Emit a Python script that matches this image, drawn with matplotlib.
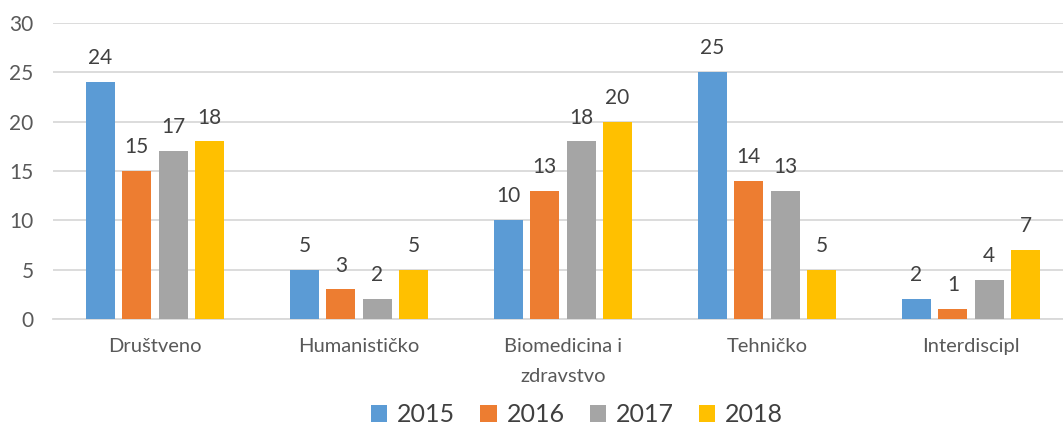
import matplotlib
matplotlib.use('Agg')
import matplotlib.pyplot as plt
import numpy as np

categories = ['Društveno', 'Humanističko', 'Biomedicina i\nzdravstvo', 'Tehničko', 'Interdiscipl']
years = ['2015', '2016', '2017', '2018']
v2015 = [24, 5, 10, 25, 2]
v2016 = [15, 3, 13, 14, 1]
v2017 = [17, 2, 18, 13, 4]
v2018 = [18, 5, 20, 5, 7]
colors = ['#5B9BD5', '#ED7D31', '#A5A5A5', '#FFC000']

plt.rcParams['font.family'] = ['Lato', 'DejaVu Sans']

fig = plt.figure(figsize=(10.63, 4.26), dpi=100)
# plot area runs past the right edge, like the cropped original
ax = fig.add_axes([53 / 1063, 107 / 426, 1020 / 1063, 296 / 426])

x = np.arange(len(categories))
slot = 0.178
bw = 0.143
series = [v2015, v2016, v2017, v2018]
for i, vals in enumerate(series):
    pos = x + (i - 1.5) * slot
    bars = ax.bar(pos, vals, width=bw, color=colors[i], label=years[i], zorder=3)
    for b, v in zip(bars, vals):
        ax.annotate(str(v), (b.get_x() + b.get_width() / 2, v),
                    xytext=(0, 10), textcoords='offset points',
                    ha='center', va='bottom', fontsize=15, color='#404040')

ax.set_xlim(-0.5, len(categories) - 0.5)
ax.set_ylim(0, 30)
ax.set_yticks(range(0, 31, 5))
ax.yaxis.grid(True, color='#D9D9D9', linewidth=1.3, zorder=0)
ax.set_axisbelow(True)
for s in ['top', 'right', 'left']:
    ax.spines[s].set_visible(False)
ax.spines['bottom'].set_color('#D9D9D9')
ax.spines['bottom'].set_linewidth(1.3)
ax.tick_params(axis='both', length=0, colors='#595959')
ax.tick_params(axis='y', labelsize=15, pad=14)
ax.tick_params(axis='x', labelsize=14.5, pad=14)
ax.set_xticks(x)
ax.set_xticklabels(categories, linespacing=1.9)

fig.legend(loc='center', bbox_to_anchor=(577 / 1063, 11 / 426), ncol=4,
           frameon=False, fontsize=18, handlelength=0.65, handleheight=0.65,
           handletextpad=0.4, columnspacing=1.0, labelcolor='#404040')

fig.savefig('out.png', dpi=100)
